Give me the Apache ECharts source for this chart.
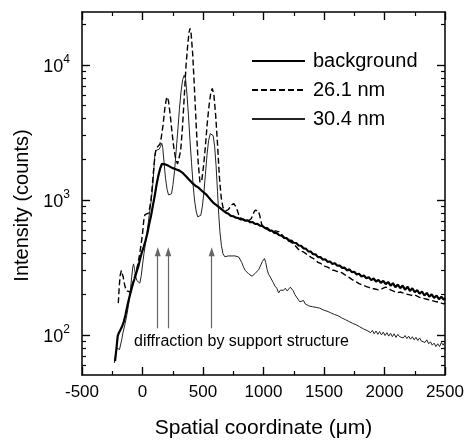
<!DOCTYPE html>
<html>
<head>
<meta charset="utf-8">
<script src="https://cdn.jsdelivr.net/npm/echarts@6/dist/echarts.min.js"></script>
<style>
html, body { margin: 0; padding: 0; background: #fff; }
#chart { width: 471px; height: 441px; }
</style>
</head>
<body>
<div id="chart"></div>
<script>
// spatial coordinate (um) / intensity (counts)
const background = [
    [-227, 64], [-215, 80], [-205, 98], [-195, 104], [-185, 108], [-170, 115], [-155, 125], [-140, 142],
    [-125, 165], [-110, 188], [-95, 212], [-80, 238], [-65, 262], [-50, 290], [-35, 320], [-20, 365],
    [-5, 410], [10, 450], [25, 500], [40, 565], [55, 660], [70, 760], [85, 900], [100, 1060], [115, 1280],
    [130, 1500], [145, 1700], [160, 1850], [172, 1880], [185, 1840], [200, 1800], [215, 1790], [230, 1760],
    [245, 1730], [260, 1710], [275, 1690], [290, 1680], [305, 1650], [320, 1620], [335, 1580], [350, 1540],
    [365, 1480], [380, 1430], [395, 1390], [410, 1340], [425, 1300], [440, 1270], [460, 1240], [475, 1200],
    [490, 1170], [510, 1130], [530, 1090], [545, 1050], [565, 1000], [580, 965], [600, 930], [615, 905],
    [635, 880], [650, 860], [670, 830], [690, 805], [710, 790], [730, 762], [750, 758], [770, 740],
    [790, 735], [810, 718], [830, 720], [850, 702], [870, 705], [890, 684], [910, 685], [930, 664],
    [950, 665], [970, 645], [990, 642], [1010, 622], [1030, 618], [1050, 596], [1070, 592], [1090, 570],
    [1110, 568], [1130, 548], [1150, 545], [1170, 524], [1190, 522], [1210, 502], [1230, 500], [1250, 482],
    [1270, 480], [1290, 460], [1310, 458], [1330, 438], [1350, 436], [1370, 416], [1390, 415], [1410, 397],
    [1430, 396], [1450, 377], [1470, 378], [1490, 362], [1510, 364], [1530, 348], [1550, 350], [1570, 336],
    [1590, 340], [1610, 326], [1630, 327], [1650, 314], [1670, 315], [1690, 301], [1710, 306], [1730, 292],
    [1750, 294], [1770, 281], [1790, 284], [1810, 271], [1830, 276], [1850, 263], [1870, 268], [1890, 255],
    [1910, 262], [1930, 249], [1950, 256], [1970, 243], [1990, 252], [2010, 238], [2030, 247], [2050, 232],
    [2070, 242], [2090, 226], [2110, 236], [2130, 222], [2150, 232], [2170, 216], [2190, 228], [2210, 212],
    [2230, 222], [2250, 207], [2270, 215], [2290, 202], [2310, 210], [2330, 196], [2350, 205], [2370, 192],
    [2390, 200], [2410, 188], [2430, 196], [2450, 184], [2470, 192], [2490, 182], [2500, 188]
];

const film261 = [
    [-200, 172], [-192, 230], [-185, 275], [-175, 300], [-168, 295], [-160, 270], [-150, 240], [-140, 222],
    [-128, 212], [-115, 205], [-100, 208], [-85, 235], [-70, 262], [-55, 290], [-40, 330], [-25, 390],
    [-10, 480], [0, 560], [10, 700], [20, 780], [35, 790], [50, 800], [60, 880], [70, 1000], [80, 1250],
    [90, 1600], [100, 2000], [110, 2350], [120, 2450], [135, 2500], [145, 2600], [155, 2900], [170, 3600],
    [185, 4800], [197, 5600], [205, 5800], [215, 5400], [230, 4200], [245, 3100], [260, 2400], [275, 2000],
    [290, 1850], [300, 1880], [315, 2300], [330, 3400], [345, 5800], [360, 10000], [375, 14500], [385, 17500],
    [393, 18700], [402, 17000], [415, 12000], [430, 6500], [445, 3400], [460, 1900], [475, 1350], [490, 1400],
    [505, 1800], [520, 2500], [535, 3700], [550, 5000], [565, 6300], [577, 6700], [590, 6000], [605, 4200],
    [620, 2600], [635, 1500], [650, 1050], [665, 880], [690, 830], [710, 850], [735, 920], [755, 940],
    [775, 880], [795, 780], [815, 730], [840, 710], [860, 700], [880, 705], [900, 730], [915, 790],
    [930, 840], [944, 860], [958, 830], [970, 760], [985, 660], [1000, 625], [1020, 610], [1040, 600],
    [1060, 585], [1080, 580], [1100, 590], [1115, 600], [1130, 580], [1150, 555], [1170, 530], [1190, 515],
    [1210, 495], [1230, 485], [1250, 470], [1270, 450], [1290, 430], [1310, 418], [1330, 412], [1350, 400],
    [1370, 392], [1390, 378], [1410, 370], [1430, 358], [1450, 345], [1470, 340], [1490, 330], [1510, 322],
    [1530, 318], [1550, 310], [1570, 302], [1590, 300], [1610, 295], [1630, 293], [1650, 288], [1670, 280],
    [1690, 274], [1710, 266], [1730, 258], [1750, 252], [1770, 246], [1790, 240], [1810, 236], [1830, 232],
    [1850, 228], [1870, 225], [1890, 222], [1910, 220], [1930, 218], [1950, 216], [1970, 218], [1990, 222],
    [2010, 226], [2030, 222], [2050, 216], [2070, 212], [2090, 208], [2110, 206], [2130, 208], [2150, 205],
    [2170, 202], [2190, 200], [2210, 198], [2230, 196], [2250, 198], [2270, 194], [2290, 190], [2310, 188],
    [2330, 186], [2350, 184], [2370, 182], [2390, 180], [2410, 178], [2430, 176], [2450, 175], [2470, 172],
    [2490, 170], [2500, 172]
];

const film304 = [
    [-233, 62], [-222, 72], [-212, 80], [-200, 82], [-190, 78], [-182, 78], [-172, 92], [-160, 105],
    [-145, 120], [-130, 140], [-115, 168], [-100, 215], [-90, 265], [-80, 320], [-74, 336], [-66, 310],
    [-55, 268], [-45, 252], [-35, 246], [-22, 242], [-10, 275], [0, 330], [12, 400], [24, 470], [35, 560],
    [48, 680], [60, 830], [70, 960], [80, 1150], [88, 1400], [96, 1800], [103, 2200], [112, 2330],
    [125, 2340], [138, 2380], [150, 2500], [159, 2630], [167, 2450], [178, 1900], [190, 1450], [203, 1200],
    [215, 1090], [227, 1060], [240, 1110], [252, 1300], [265, 1650], [278, 2300], [292, 3300], [305, 4700],
    [318, 6300], [332, 7800], [345, 8400], [356, 7900], [368, 6000], [380, 4200], [392, 2800], [405, 1900],
    [418, 1300], [430, 1000], [443, 830], [456, 750], [469, 730], [482, 770], [495, 900], [508, 1150],
    [520, 1550], [533, 2150], [546, 2750], [560, 3100], [572, 3200], [584, 3000], [596, 2500], [608, 1800],
    [620, 1150], [630, 780], [640, 580], [652, 460], [665, 400], [680, 380], [695, 378], [710, 385],
    [725, 392], [740, 385], [752, 392], [765, 385], [780, 380], [795, 378], [806, 370], [820, 345],
    [835, 318], [850, 300], [865, 290], [880, 282], [895, 276], [905, 272], [918, 280], [930, 285],
    [945, 292], [960, 305], [975, 325], [990, 350], [1000, 362], [1008, 368], [1018, 345], [1030, 305],
    [1042, 282], [1054, 270], [1066, 262], [1080, 245], [1095, 230], [1110, 222], [1125, 205], [1140, 215],
    [1155, 208], [1165, 214], [1180, 222], [1195, 212], [1210, 218], [1222, 226], [1234, 230], [1246, 212],
    [1258, 200], [1270, 196], [1285, 184], [1300, 176], [1315, 172], [1330, 180], [1345, 170], [1360, 172],
    [1375, 164], [1390, 168], [1405, 162], [1420, 165], [1435, 160], [1450, 162], [1465, 158], [1480, 160],
    [1495, 153], [1510, 156], [1525, 150], [1540, 152], [1555, 146], [1570, 148], [1585, 142], [1600, 144],
    [1615, 139], [1630, 140], [1645, 134], [1660, 136], [1675, 130], [1690, 131], [1705, 126], [1720, 127],
    [1735, 122], [1750, 124], [1765, 119], [1780, 120], [1795, 115], [1810, 116], [1825, 111], [1840, 113],
    [1855, 108], [1870, 110], [1885, 104], [1900, 108], [1915, 102], [1930, 107], [1945, 101], [1960, 106],
    [1975, 100], [1990, 105], [2005, 99], [2020, 104], [2035, 98], [2050, 103], [2065, 97], [2080, 102],
    [2095, 96], [2110, 101], [2125, 97], [2140, 100], [2155, 95], [2170, 99], [2185, 94], [2200, 98],
    [2215, 93], [2230, 97], [2245, 92], [2260, 96], [2275, 91], [2290, 95], [2305, 90], [2320, 93],
    [2335, 88], [2350, 92], [2365, 86], [2380, 89], [2395, 84], [2410, 87], [2425, 82], [2440, 86],
    [2455, 82], [2470, 88], [2485, 84], [2500, 89]
];

// axis ranges and ticks
const X_MIN = -500, X_MAX = 2500;
const Y_MIN = 50.5, Y_MAX = 24700;
const xMajorTicks = [-500, 0, 500, 1000, 1500, 2000, 2500];
const xMinorTicks = [-250, 250, 750, 1250, 1750, 2250];
const yMajorTicks = [100, 1000, 10000];
const yMinorTicks = [60, 70, 80, 90, 200, 300, 400, 500, 600, 700, 800, 900,
    2000, 3000, 4000, 5000, 6000, 7000, 8000, 9000, 20000];

// arrows: "diffraction by support structure"
const arrowX = [126, 213, 572];
const arrowFrom = 112;
const arrowTo = 414;

const FONT = 'Liberation Sans';
const AXIS_COLOR = '#000';
const GRID = { left: 82, right: 26, top: 12, bottom: 66 };

const chart = echarts.init(document.getElementById('chart'));

// tick lengths are given in pixels, turned into data units of the plot area
const plotW = 471 - GRID.left - GRID.right;
const plotH = 441 - GRID.top - GRID.bottom;
const xPerPx = (X_MAX - X_MIN) / plotW;
const decadesPerPx = Math.log10(Y_MAX / Y_MIN) / plotH;

const tickSegments = [];
const addXTick = (v, len) => {
    const f = Math.pow(10, len * decadesPerPx);
    tickSegments.push([{ coord: [v, Y_MIN] }, { coord: [v, Y_MIN * f] }]);
    tickSegments.push([{ coord: [v, Y_MAX] }, { coord: [v, Y_MAX / f] }]);
};
const addYTick = (v, len) => {
    tickSegments.push([{ coord: [X_MIN, v] }, { coord: [X_MIN + len * xPerPx, v] }]);
    tickSegments.push([{ coord: [X_MAX, v] }, { coord: [X_MAX - len * xPerPx, v] }]);
};
xMajorTicks.forEach(v => addXTick(v, 8));
xMinorTicks.forEach(v => addXTick(v, 4));
yMajorTicks.forEach(v => addYTick(v, 8));
yMinorTicks.forEach(v => addYTick(v, 4));

const xBase = {
    type: 'value',
    min: X_MIN,
    max: X_MAX,
    interval: 500,
    splitLine: { show: false },
    axisLine: { show: true, onZero: false, lineStyle: { color: AXIS_COLOR, width: 1.5 } },
    axisTick: { show: true, inside: true, length: 8, lineStyle: { color: AXIS_COLOR, width: 1.2 } }
};

const yBase = {
    type: 'log',
    logBase: 10,
    min: Y_MIN,
    max: Y_MAX,
    splitLine: { show: false },
    axisLine: { show: true, onZero: false, lineStyle: { color: AXIS_COLOR, width: 1.5 } },
    axisTick: { show: true, inside: true, length: 8, customValues: yMajorTicks, lineStyle: { color: AXIS_COLOR, width: 1.2 } },
    axisLabel: { show: false }
};

const option = {
    animation: false,
    title: { text: '' },
    grid: Object.assign({ outerBoundsMode: 'none' }, GRID),
    legend: {
        orient: 'vertical',
        left: 251,
        top: 51,
        padding: 0,
        itemWidth: 53,
        itemHeight: 12,
        itemGap: 9,
        selectedMode: false,
        itemStyle: { color: 'rgba(0,0,0,0)', borderColor: 'rgba(0,0,0,0)', borderWidth: 0 },
        textStyle: { fontFamily: FONT, fontSize: 20, color: '#000', lineHeight: 20, padding: [0, 0, 0, 3] },
        data: ['background', '26.1 nm', '30.4 nm']
    },
    xAxis: [
        Object.assign({}, xBase, {
            position: 'bottom',
            axisLabel: { fontFamily: FONT, fontSize: 17, color: '#000', margin: 9, formatter: v => String(v) },
            name: 'Spatial coordinate (\u03bcm)',
            nameLocation: 'middle',
            nameGap: 43,
            nameTextStyle: { fontFamily: FONT, fontSize: 21, color: '#000' }
        }),
        Object.assign({}, xBase, { position: 'top', axisLabel: { show: false } })
    ],
    yAxis: [
        Object.assign({}, yBase, {
            position: 'left',
            axisLabel: {
                show: true,
                customValues: yMajorTicks,
                margin: 12,
                formatter: v => '{b|10}{s|' + Math.round(Math.log10(v)) + '}',
                rich: {
                    b: { fontFamily: FONT, fontSize: 18, color: '#000', lineHeight: 22, verticalAlign: 'bottom' },
                    s: { fontFamily: FONT, fontSize: 12, color: '#000', lineHeight: 22, verticalAlign: 'top' }
                }
            },
            name: 'Intensity (counts)',
            nameLocation: 'middle',
            nameGap: 46,
            nameTextStyle: { fontFamily: FONT, fontSize: 20, color: '#000', padding: [0, 24, 0, 0] }
        }),
        Object.assign({}, yBase, { position: 'right' })
    ],
    series: [
        {
            name: '30.4 nm',
            type: 'line',
            data: film304,
            symbol: 'none',
            lineStyle: { color: '#222', width: 1 },
            itemStyle: { color: '#222' },
            markLine: {
                silent: true,
                symbol: ['none', 'none'],
                label: { show: false },
                lineStyle: { color: AXIS_COLOR, width: 1.2, type: 'solid' },
                data: tickSegments
            }
        },
        {
            name: '26.1 nm',
            type: 'line',
            data: film261,
            symbol: 'none',
            lineStyle: { color: '#000', width: 1.4, type: [6, 3] },
            itemStyle: { color: '#000' }
        },
        {
            name: 'background',
            type: 'line',
            data: background,
            symbol: 'none',
            lineStyle: { color: '#000', width: 2.2 },
            itemStyle: { color: '#000' },
            markLine: {
                silent: true,
                symbol: ['none', 'triangle'],
                symbolSize: [6, 9],
                label: { show: false },
                lineStyle: { color: '#666', width: 1.2, type: 'solid' },
                data: arrowX.map(x => [{ coord: [x, arrowFrom] }, { coord: [x, arrowTo] }])
            }
        }
    ],
    graphic: [
        {
            type: 'text',
            left: 134,
            top: 334,
            style: { text: 'diffraction by support structure', fontFamily: FONT, fontSize: 16, fill: '#000' }
        }
    ]
};

chart.setOption(option);
</script>
</body>
</html>
